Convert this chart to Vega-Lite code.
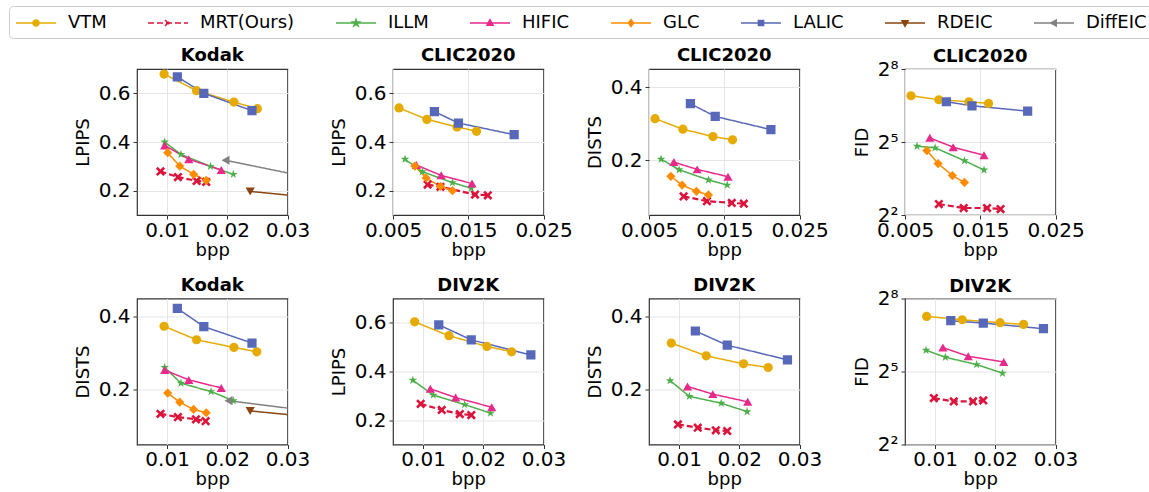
{
"$schema": "https://vega.github.io/schema/vega-lite/v6.json",
"background": "white",
"padding": {"left": 8, "top": 5, "right": 2, "bottom": 0},
"config": {
  "font": "DejaVu Sans",
  "view": {"stroke": "#333333", "strokeWidth": 1.2},
  "axis": {"grid": true, "gridColor": "#e5e5e5", "gridWidth": 1, "domain": false, "tickColor": "#333333", "tickSize": 4, "labelFontSize": 20, "labelColor": "black", "titleFontSize": 18, "titleFontWeight": "normal", "titleColor": "black", "labelFlush": false, "labelOverlap": false, "labelPadding": 3, "titlePadding": 6},
  "axisX": {"labelPadding": 1, "titlePadding": 1},
  "title": {"fontSize": 18, "fontWeight": "bold", "offset": 4, "color": "black"},
  "legend": {"orient": "none", "legendX": -128, "legendY": -63, "direction": "horizontal", "columns": 8, "columnPadding": 38, "symbolSize": 400, "symbolOffset": 10, "labelOffset": 21, "labelFontSize": 18, "labelColor": "black", "padding": 6, "strokeColor": "#cccccc", "cornerRadius": 4, "fillColor": "white", "symbolStrokeWidth": 1.5}
},
"data": {"values": [
{"p":"A","m":"VTM","x":0.0095,"y":0.679},{"p":"A","m":"VTM","x":0.0149,"y":0.611},{"p":"A","m":"VTM","x":0.0211,"y":0.564},{"p":"A","m":"VTM","x":0.025,"y":0.537},
{"p":"A","m":"MRT(Ours)","x":0.0089,"y":0.279},{"p":"A","m":"MRT(Ours)","x":0.0118,"y":0.256},{"p":"A","m":"MRT(Ours)","x":0.0149,"y":0.24},{"p":"A","m":"MRT(Ours)","x":0.0165,"y":0.236},
{"p":"A","m":"ILLM","x":0.0096,"y":0.4},{"p":"A","m":"ILLM","x":0.0123,"y":0.349},{"p":"A","m":"ILLM","x":0.0172,"y":0.3},{"p":"A","m":"ILLM","x":0.021,"y":0.267},
{"p":"A","m":"HIFIC","x":0.0096,"y":0.386},{"p":"A","m":"HIFIC","x":0.0136,"y":0.329},{"p":"A","m":"HIFIC","x":0.019,"y":0.285},
{"p":"A","m":"GLC","x":0.0101,"y":0.356},{"p":"A","m":"GLC","x":0.0121,"y":0.301},{"p":"A","m":"GLC","x":0.0144,"y":0.267},{"p":"A","m":"GLC","x":0.0165,"y":0.242},
{"p":"A","m":"LALIC","x":0.0117,"y":0.668},{"p":"A","m":"LALIC","x":0.0161,"y":0.6},{"p":"A","m":"LALIC","x":0.0241,"y":0.529},
{"p":"A","m":"RDEIC","x":0.0238,"y":0.197},{"p":"A","m":"RDEIC","x":0.045,"y":0.146},
{"p":"A","m":"DiffEIC","x":0.0197,"y":0.325},{"p":"A","m":"DiffEIC","x":0.045,"y":0.197},

{"p":"B","m":"VTM","x":0.0058,"y":0.54},{"p":"B","m":"VTM","x":0.0095,"y":0.493},{"p":"B","m":"VTM","x":0.0135,"y":0.462},{"p":"B","m":"VTM","x":0.0161,"y":0.444},
{"p":"B","m":"MRT(Ours)","x":0.0096,"y":0.225},{"p":"B","m":"MRT(Ours)","x":0.0113,"y":0.216},{"p":"B","m":"MRT(Ours)","x":0.0159,"y":0.184},{"p":"B","m":"MRT(Ours)","x":0.0176,"y":0.181},
{"p":"B","m":"ILLM","x":0.0066,"y":0.329},{"p":"B","m":"ILLM","x":0.0089,"y":0.278},{"p":"B","m":"ILLM","x":0.0129,"y":0.233},{"p":"B","m":"ILLM","x":0.0154,"y":0.21},
{"p":"B","m":"HIFIC","x":0.0081,"y":0.305},{"p":"B","m":"HIFIC","x":0.0114,"y":0.263},{"p":"B","m":"HIFIC","x":0.0155,"y":0.229},
{"p":"B","m":"GLC","x":0.0079,"y":0.301},{"p":"B","m":"GLC","x":0.0094,"y":0.252},{"p":"B","m":"GLC","x":0.0113,"y":0.218},{"p":"B","m":"GLC","x":0.0129,"y":0.2},
{"p":"B","m":"LALIC","x":0.0105,"y":0.525},{"p":"B","m":"LALIC","x":0.0137,"y":0.478},{"p":"B","m":"LALIC","x":0.0211,"y":0.43},

{"p":"C","m":"VTM","x":0.0058,"y":0.314},{"p":"C","m":"VTM","x":0.0095,"y":0.285},{"p":"C","m":"VTM","x":0.0135,"y":0.265},{"p":"C","m":"VTM","x":0.0161,"y":0.256},
{"p":"C","m":"MRT(Ours)","x":0.0096,"y":0.101},{"p":"C","m":"MRT(Ours)","x":0.0127,"y":0.088},{"p":"C","m":"MRT(Ours)","x":0.016,"y":0.083},{"p":"C","m":"MRT(Ours)","x":0.0176,"y":0.081},
{"p":"C","m":"ILLM","x":0.0066,"y":0.203},{"p":"C","m":"ILLM","x":0.009,"y":0.174},{"p":"C","m":"ILLM","x":0.0129,"y":0.146},{"p":"C","m":"ILLM","x":0.0154,"y":0.132},
{"p":"C","m":"HIFIC","x":0.0083,"y":0.195},{"p":"C","m":"HIFIC","x":0.0114,"y":0.175},{"p":"C","m":"HIFIC","x":0.0155,"y":0.155},
{"p":"C","m":"GLC","x":0.0079,"y":0.156},{"p":"C","m":"GLC","x":0.0094,"y":0.132},{"p":"C","m":"GLC","x":0.0113,"y":0.115},{"p":"C","m":"GLC","x":0.0129,"y":0.105},
{"p":"C","m":"LALIC","x":0.0105,"y":0.355},{"p":"C","m":"LALIC","x":0.0138,"y":0.32},{"p":"C","m":"LALIC","x":0.0212,"y":0.284},

{"p":"D","m":"VTM","x":0.0058,"y":119.5},{"p":"D","m":"VTM","x":0.0095,"y":106.6},{"p":"D","m":"VTM","x":0.0135,"y":100.7},{"p":"D","m":"VTM","x":0.0161,"y":96},
{"p":"D","m":"MRT(Ours)","x":0.0095,"y":5.46},{"p":"D","m":"MRT(Ours)","x":0.0128,"y":4.88},{"p":"D","m":"MRT(Ours)","x":0.0159,"y":4.88},{"p":"D","m":"MRT(Ours)","x":0.0177,"y":4.74},
{"p":"D","m":"ILLM","x":0.0066,"y":28.4},{"p":"D","m":"ILLM","x":0.009,"y":27.1},{"p":"D","m":"ILLM","x":0.0129,"y":18.8},{"p":"D","m":"ILLM","x":0.0155,"y":14.4},
{"p":"D","m":"HIFIC","x":0.0083,"y":36},{"p":"D","m":"HIFIC","x":0.0114,"y":27.6},{"p":"D","m":"HIFIC","x":0.0155,"y":21.9},
{"p":"D","m":"GLC","x":0.0079,"y":25.1},{"p":"D","m":"GLC","x":0.0094,"y":17.3},{"p":"D","m":"GLC","x":0.0113,"y":12.3},{"p":"D","m":"GLC","x":0.0129,"y":10.1},
{"p":"D","m":"LALIC","x":0.0105,"y":100.7},{"p":"D","m":"LALIC","x":0.0139,"y":89.8},{"p":"D","m":"LALIC","x":0.0213,"y":77.1},

{"p":"E","m":"VTM","x":0.0095,"y":0.374},{"p":"E","m":"VTM","x":0.0149,"y":0.337},{"p":"E","m":"VTM","x":0.0211,"y":0.316},{"p":"E","m":"VTM","x":0.0249,"y":0.304},
{"p":"E","m":"MRT(Ours)","x":0.0089,"y":0.134},{"p":"E","m":"MRT(Ours)","x":0.0118,"y":0.125},{"p":"E","m":"MRT(Ours)","x":0.0148,"y":0.119},{"p":"E","m":"MRT(Ours)","x":0.0164,"y":0.114},
{"p":"E","m":"ILLM","x":0.0096,"y":0.261},{"p":"E","m":"ILLM","x":0.0123,"y":0.218},{"p":"E","m":"ILLM","x":0.0173,"y":0.195},{"p":"E","m":"ILLM","x":0.021,"y":0.17},
{"p":"E","m":"HIFIC","x":0.0096,"y":0.254},{"p":"E","m":"HIFIC","x":0.0136,"y":0.227},{"p":"E","m":"HIFIC","x":0.019,"y":0.205},
{"p":"E","m":"GLC","x":0.0101,"y":0.191},{"p":"E","m":"GLC","x":0.0121,"y":0.166},{"p":"E","m":"GLC","x":0.0144,"y":0.146},{"p":"E","m":"GLC","x":0.0165,"y":0.137},
{"p":"E","m":"LALIC","x":0.0117,"y":0.423},{"p":"E","m":"LALIC","x":0.0161,"y":0.373},{"p":"E","m":"LALIC","x":0.0241,"y":0.328},
{"p":"E","m":"RDEIC","x":0.0238,"y":0.142},{"p":"E","m":"RDEIC","x":0.045,"y":0.108},
{"p":"E","m":"DiffEIC","x":0.0202,"y":0.17},{"p":"E","m":"DiffEIC","x":0.045,"y":0.119},

{"p":"F","m":"VTM","x":0.0086,"y":0.604},{"p":"F","m":"VTM","x":0.0143,"y":0.547},{"p":"F","m":"VTM","x":0.0206,"y":0.503},{"p":"F","m":"VTM","x":0.0247,"y":0.481},
{"p":"F","m":"MRT(Ours)","x":0.0096,"y":0.267},{"p":"F","m":"MRT(Ours)","x":0.0131,"y":0.242},{"p":"F","m":"MRT(Ours)","x":0.0161,"y":0.225},{"p":"F","m":"MRT(Ours)","x":0.018,"y":0.221},
{"p":"F","m":"ILLM","x":0.0083,"y":0.364},{"p":"F","m":"ILLM","x":0.0117,"y":0.303},{"p":"F","m":"ILLM","x":0.0169,"y":0.264},{"p":"F","m":"ILLM","x":0.0212,"y":0.229},
{"p":"F","m":"HIFIC","x":0.0112,"y":0.329},{"p":"F","m":"HIFIC","x":0.0154,"y":0.293},{"p":"F","m":"HIFIC","x":0.0214,"y":0.253},
{"p":"F","m":"LALIC","x":0.0126,"y":0.592},{"p":"F","m":"LALIC","x":0.018,"y":0.53},{"p":"F","m":"LALIC","x":0.0279,"y":0.468},

{"p":"G","m":"VTM","x":0.0087,"y":0.328},{"p":"G","m":"VTM","x":0.0145,"y":0.293},{"p":"G","m":"VTM","x":0.0207,"y":0.271},{"p":"G","m":"VTM","x":0.0248,"y":0.261},
{"p":"G","m":"MRT(Ours)","x":0.0098,"y":0.105},{"p":"G","m":"MRT(Ours)","x":0.0131,"y":0.096},{"p":"G","m":"MRT(Ours)","x":0.0161,"y":0.089},{"p":"G","m":"MRT(Ours)","x":0.018,"y":0.087},
{"p":"G","m":"ILLM","x":0.0085,"y":0.225},{"p":"G","m":"ILLM","x":0.0117,"y":0.182},{"p":"G","m":"ILLM","x":0.017,"y":0.163},{"p":"G","m":"ILLM","x":0.0213,"y":0.14},
{"p":"G","m":"HIFIC","x":0.0114,"y":0.209},{"p":"G","m":"HIFIC","x":0.0156,"y":0.188},{"p":"G","m":"HIFIC","x":0.0214,"y":0.167},
{"p":"G","m":"LALIC","x":0.0127,"y":0.361},{"p":"G","m":"LALIC","x":0.018,"y":0.322},{"p":"G","m":"LALIC","x":0.028,"y":0.282},

{"p":"H","m":"VTM","x":0.0086,"y":153.6},{"p":"H","m":"VTM","x":0.0145,"y":139.8},{"p":"H","m":"VTM","x":0.0208,"y":128.4},{"p":"H","m":"VTM","x":0.0247,"y":122.4},
{"p":"H","m":"MRT(Ours)","x":0.0098,"y":15},{"p":"H","m":"MRT(Ours)","x":0.0131,"y":13.65},{"p":"H","m":"MRT(Ours)","x":0.0163,"y":13.65},{"p":"H","m":"MRT(Ours)","x":0.018,"y":14.05},
{"p":"H","m":"ILLM","x":0.0085,"y":58.6},{"p":"H","m":"ILLM","x":0.0117,"y":48},{"p":"H","m":"ILLM","x":0.0169,"y":39},{"p":"H","m":"ILLM","x":0.0212,"y":30.5},
{"p":"H","m":"HIFIC","x":0.0113,"y":63.2},{"p":"H","m":"HIFIC","x":0.0155,"y":49.4},{"p":"H","m":"HIFIC","x":0.0214,"y":42},
{"p":"H","m":"LALIC","x":0.0126,"y":135.9},{"p":"H","m":"LALIC","x":0.018,"y":127.1},{"p":"H","m":"LALIC","x":0.028,"y":108.3}
]},
"columns": 4,
"spacing": {"row": 83.5, "column": 105},
"bounds": "flush",
"resolve": {"scale": {"color": "shared", "shape": "shared", "strokeDash": "shared"}},
"concat": [
{"title": "Kodak", "width": 150.5, "height": 146,
 "transform": [{"filter": "datum.p === 'A'"}],
 "encoding": {
  "x": {"field": "x", "type": "quantitative", "scale": {"domain": [0.005, 0.03]}, "axis": {"values": [0.01, 0.02, 0.03], "format": ".3~f", "title": "bpp"}},
  "y": {"field": "y", "type": "quantitative", "scale": {"domain": [0.1, 0.7]}, "axis": {"values": [0.2, 0.4, 0.6], "format": ".1f", "title": "LPIPS"}},
  "color": {"field": "m", "type": "nominal", "scale": {"domain": ["VTM","MRT(Ours)","ILLM","HIFIC","GLC","LALIC","RDEIC","DiffEIC"], "range": ["#e6ab02","#dc143c","#4daf4a","#e7298a","#ff8c00","#5768b8","#8b4513","#808080"]},
   "legend": {"title": null, "encode": {"symbols": {"update": {
     "shape": {"signal": "{'VTM':'M-2,0H2M0.3,0A0.3,0.3,0,1,1,-0.3,0A0.3,0.3,0,1,1,0.3,0Z','MRT(Ours)':'M-2,0H2M-0.3,-0.3L0.3,0.3M-0.3,0.3L0.3,-0.3','ILLM':'M-2,0H2M0,-0.35L0.078,-0.107L0.333,-0.108L0.126,0.041L0.206,0.283L0,0.133L-0.206,0.283L-0.126,0.041L-0.333,-0.108L-0.078,-0.107Z','HIFIC':'M-2,0H2M0,-0.33L0.3,0.22L-0.3,0.22Z','GLC':'M-2,0H2M0,-0.35L0.26,0L0,0.35L-0.26,0Z','LALIC':'M-2,0H2M-0.26,-0.26H0.26V0.26H-0.26Z','RDEIC':'M-2,0H2M0,0.33L0.3,-0.22L-0.3,-0.22Z','DiffEIC':'M-2,0H2M-0.33,0L0.22,-0.3L0.22,0.3Z'}[datum.value]"},
     "fill": {"signal": "{'VTM':'#e6ab02','MRT(Ours)':'#dc143c','ILLM':'#4daf4a','HIFIC':'#e7298a','GLC':'#ff8c00','LALIC':'#5768b8','RDEIC':'#8b4513','DiffEIC':'#808080'}[datum.value]"},
     "stroke": {"signal": "{'VTM':'#e6ab02','MRT(Ours)':'#dc143c','ILLM':'#4daf4a','HIFIC':'#e7298a','GLC':'#ff8c00','LALIC':'#5768b8','RDEIC':'#8b4513','DiffEIC':'#808080'}[datum.value]"},
     "strokeDash": {"signal": "datum.value === 'MRT(Ours)' ? [5,3] : [1,0]"},
     "strokeWidth": {"value": 1.5},
     "opacity": {"value": 1}}}}}}
 },
 "layer": [
  {"mark": {"type": "line", "clip": true}, "encoding": {"strokeDash": {"field": "m", "type": "nominal", "scale": {"domain": ["VTM","MRT(Ours)","ILLM","HIFIC","GLC","LALIC","RDEIC","DiffEIC"], "range": [[1,0],[6,3],[1,0],[1,0],[1,0],[1,0],[1,0],[1,0]]}, "legend": null}, "strokeWidth": {"condition": {"test": "datum.m === 'MRT(Ours)'", "value": 2.2}, "value": 1.5}}},
  {"mark": {"type": "point", "filled": true, "size": 85, "opacity": 1, "clip": true}, "encoding": {"shape": {"field": "m", "type": "nominal", "scale": {"domain": ["DiffEIC","RDEIC","LALIC","GLC","HIFIC","ILLM","MRT(Ours)","VTM"], "range": ["triangle-left","triangle-down","square","diamond","triangle-up","M0,-1L0.223,-0.307L0.951,-0.309L0.361,0.117L0.588,0.809L0,0.38L-0.588,0.809L-0.361,0.117L-0.951,-0.309L-0.223,-0.307Z","M-1,-0.6L-0.6,-1L0,-0.4L0.6,-1L1,-0.6L0.4,0L1,0.6L0.6,1L0,0.4L-0.6,1L-1,0.6L-0.4,0Z","circle"]}, "legend": null}}}
 ]},
{"title": "CLIC2020", "width": 150.5, "height": 146,
 "transform": [{"filter": "datum.p === 'B'"}],
 "encoding": {
  "x": {"field": "x", "type": "quantitative", "scale": {"domain": [0.005, 0.025]}, "axis": {"values": [0.005, 0.015, 0.025], "format": ".3~f", "title": "bpp"}},
  "y": {"field": "y", "type": "quantitative", "scale": {"domain": [0.1, 0.7]}, "axis": {"values": [0.2, 0.4, 0.6], "format": ".1f", "title": "LPIPS"}},
  "color": {"field": "m", "type": "nominal", "scale": {"domain": ["VTM","MRT(Ours)","ILLM","HIFIC","GLC","LALIC","RDEIC","DiffEIC"], "range": ["#e6ab02","#dc143c","#4daf4a","#e7298a","#ff8c00","#5768b8","#8b4513","#808080"]}}
 },
 "layer": [
  {"mark": {"type": "line", "clip": true}, "encoding": {"strokeDash": {"field": "m", "type": "nominal", "scale": {"domain": ["VTM","MRT(Ours)","ILLM","HIFIC","GLC","LALIC","RDEIC","DiffEIC"], "range": [[1,0],[6,3],[1,0],[1,0],[1,0],[1,0],[1,0],[1,0]]}, "legend": null}, "strokeWidth": {"condition": {"test": "datum.m === 'MRT(Ours)'", "value": 2.2}, "value": 1.5}}},
  {"mark": {"type": "point", "filled": true, "size": 85, "opacity": 1, "clip": true}, "encoding": {"shape": {"field": "m", "type": "nominal", "scale": {"domain": ["DiffEIC","RDEIC","LALIC","GLC","HIFIC","ILLM","MRT(Ours)","VTM"], "range": ["triangle-left","triangle-down","square","diamond","triangle-up","M0,-1L0.223,-0.307L0.951,-0.309L0.361,0.117L0.588,0.809L0,0.38L-0.588,0.809L-0.361,0.117L-0.951,-0.309L-0.223,-0.307Z","M-1,-0.6L-0.6,-1L0,-0.4L0.6,-1L1,-0.6L0.4,0L1,0.6L0.6,1L0,0.4L-0.6,1L-1,0.6L-0.4,0Z","circle"]}, "legend": null}}}
 ]},
{"title": "CLIC2020", "width": 150.5, "height": 146,
 "transform": [{"filter": "datum.p === 'C'"}],
 "encoding": {
  "x": {"field": "x", "type": "quantitative", "scale": {"domain": [0.005, 0.025]}, "axis": {"values": [0.005, 0.015, 0.025], "format": ".3~f", "title": "bpp"}},
  "y": {"field": "y", "type": "quantitative", "scale": {"domain": [0.05, 0.45]}, "axis": {"values": [0.2, 0.4], "format": ".1f", "title": "DISTS"}},
  "color": {"field": "m", "type": "nominal", "scale": {"domain": ["VTM","MRT(Ours)","ILLM","HIFIC","GLC","LALIC","RDEIC","DiffEIC"], "range": ["#e6ab02","#dc143c","#4daf4a","#e7298a","#ff8c00","#5768b8","#8b4513","#808080"]}}
 },
 "layer": [
  {"mark": {"type": "line", "clip": true}, "encoding": {"strokeDash": {"field": "m", "type": "nominal", "scale": {"domain": ["VTM","MRT(Ours)","ILLM","HIFIC","GLC","LALIC","RDEIC","DiffEIC"], "range": [[1,0],[6,3],[1,0],[1,0],[1,0],[1,0],[1,0],[1,0]]}, "legend": null}, "strokeWidth": {"condition": {"test": "datum.m === 'MRT(Ours)'", "value": 2.2}, "value": 1.5}}},
  {"mark": {"type": "point", "filled": true, "size": 85, "opacity": 1, "clip": true}, "encoding": {"shape": {"field": "m", "type": "nominal", "scale": {"domain": ["DiffEIC","RDEIC","LALIC","GLC","HIFIC","ILLM","MRT(Ours)","VTM"], "range": ["triangle-left","triangle-down","square","diamond","triangle-up","M0,-1L0.223,-0.307L0.951,-0.309L0.361,0.117L0.588,0.809L0,0.38L-0.588,0.809L-0.361,0.117L-0.951,-0.309L-0.223,-0.307Z","M-1,-0.6L-0.6,-1L0,-0.4L0.6,-1L1,-0.6L0.4,0L1,0.6L0.6,1L0,0.4L-0.6,1L-1,0.6L-0.4,0Z","circle"]}, "legend": null}}}
 ]},
{"title": {"text": "CLIC2020", "offset": -7}, "width": 150.5, "height": 146,
 "transform": [{"filter": "datum.p === 'D'"}],
 "encoding": {
  "x": {"field": "x", "type": "quantitative", "scale": {"domain": [0.005, 0.025]}, "axis": {"values": [0.005, 0.015, 0.025], "format": ".3~f", "title": "bpp"}},
  "y": {"field": "y", "type": "quantitative", "scale": {"type": "log", "base": 2, "domain": [4, 256]}, "axis": {"values": [4, 32, 256], "labelExpr": "datum.value == 4 ? '2²' : datum.value == 32 ? '2⁵' : '2⁸'", "title": "FID"}},
  "color": {"field": "m", "type": "nominal", "scale": {"domain": ["VTM","MRT(Ours)","ILLM","HIFIC","GLC","LALIC","RDEIC","DiffEIC"], "range": ["#e6ab02","#dc143c","#4daf4a","#e7298a","#ff8c00","#5768b8","#8b4513","#808080"]}}
 },
 "layer": [
  {"mark": {"type": "line", "clip": true}, "encoding": {"strokeDash": {"field": "m", "type": "nominal", "scale": {"domain": ["VTM","MRT(Ours)","ILLM","HIFIC","GLC","LALIC","RDEIC","DiffEIC"], "range": [[1,0],[6,3],[1,0],[1,0],[1,0],[1,0],[1,0],[1,0]]}, "legend": null}, "strokeWidth": {"condition": {"test": "datum.m === 'MRT(Ours)'", "value": 2.2}, "value": 1.5}}},
  {"mark": {"type": "point", "filled": true, "size": 85, "opacity": 1, "clip": true}, "encoding": {"shape": {"field": "m", "type": "nominal", "scale": {"domain": ["DiffEIC","RDEIC","LALIC","GLC","HIFIC","ILLM","MRT(Ours)","VTM"], "range": ["triangle-left","triangle-down","square","diamond","triangle-up","M0,-1L0.223,-0.307L0.951,-0.309L0.361,0.117L0.588,0.809L0,0.38L-0.588,0.809L-0.361,0.117L-0.951,-0.309L-0.223,-0.307Z","M-1,-0.6L-0.6,-1L0,-0.4L0.6,-1L1,-0.6L0.4,0L1,0.6L0.6,1L0,0.4L-0.6,1L-1,0.6L-0.4,0Z","circle"]}, "legend": null}}}
 ]},
{"title": "Kodak", "width": 150.5, "height": 146,
 "transform": [{"filter": "datum.p === 'E'"}],
 "encoding": {
  "x": {"field": "x", "type": "quantitative", "scale": {"domain": [0.005, 0.03]}, "axis": {"values": [0.01, 0.02, 0.03], "format": ".3~f", "title": "bpp"}},
  "y": {"field": "y", "type": "quantitative", "scale": {"domain": [0.05, 0.45]}, "axis": {"values": [0.2, 0.4], "format": ".1f", "title": "DISTS"}},
  "color": {"field": "m", "type": "nominal", "scale": {"domain": ["VTM","MRT(Ours)","ILLM","HIFIC","GLC","LALIC","RDEIC","DiffEIC"], "range": ["#e6ab02","#dc143c","#4daf4a","#e7298a","#ff8c00","#5768b8","#8b4513","#808080"]}}
 },
 "layer": [
  {"mark": {"type": "line", "clip": true}, "encoding": {"strokeDash": {"field": "m", "type": "nominal", "scale": {"domain": ["VTM","MRT(Ours)","ILLM","HIFIC","GLC","LALIC","RDEIC","DiffEIC"], "range": [[1,0],[6,3],[1,0],[1,0],[1,0],[1,0],[1,0],[1,0]]}, "legend": null}, "strokeWidth": {"condition": {"test": "datum.m === 'MRT(Ours)'", "value": 2.2}, "value": 1.5}}},
  {"mark": {"type": "point", "filled": true, "size": 85, "opacity": 1, "clip": true}, "encoding": {"shape": {"field": "m", "type": "nominal", "scale": {"domain": ["DiffEIC","RDEIC","LALIC","GLC","HIFIC","ILLM","MRT(Ours)","VTM"], "range": ["triangle-left","triangle-down","square","diamond","triangle-up","M0,-1L0.223,-0.307L0.951,-0.309L0.361,0.117L0.588,0.809L0,0.38L-0.588,0.809L-0.361,0.117L-0.951,-0.309L-0.223,-0.307Z","M-1,-0.6L-0.6,-1L0,-0.4L0.6,-1L1,-0.6L0.4,0L1,0.6L0.6,1L0,0.4L-0.6,1L-1,0.6L-0.4,0Z","circle"]}, "legend": null}}}
 ]},
{"title": "DIV2K", "width": 150.5, "height": 146,
 "transform": [{"filter": "datum.p === 'F'"}],
 "encoding": {
  "x": {"field": "x", "type": "quantitative", "scale": {"domain": [0.005, 0.03]}, "axis": {"values": [0.01, 0.02, 0.03], "format": ".3~f", "title": "bpp"}},
  "y": {"field": "y", "type": "quantitative", "scale": {"domain": [0.1, 0.7]}, "axis": {"values": [0.2, 0.4, 0.6], "format": ".1f", "title": "LPIPS"}},
  "color": {"field": "m", "type": "nominal", "scale": {"domain": ["VTM","MRT(Ours)","ILLM","HIFIC","GLC","LALIC","RDEIC","DiffEIC"], "range": ["#e6ab02","#dc143c","#4daf4a","#e7298a","#ff8c00","#5768b8","#8b4513","#808080"]}}
 },
 "layer": [
  {"mark": {"type": "line", "clip": true}, "encoding": {"strokeDash": {"field": "m", "type": "nominal", "scale": {"domain": ["VTM","MRT(Ours)","ILLM","HIFIC","GLC","LALIC","RDEIC","DiffEIC"], "range": [[1,0],[6,3],[1,0],[1,0],[1,0],[1,0],[1,0],[1,0]]}, "legend": null}, "strokeWidth": {"condition": {"test": "datum.m === 'MRT(Ours)'", "value": 2.2}, "value": 1.5}}},
  {"mark": {"type": "point", "filled": true, "size": 85, "opacity": 1, "clip": true}, "encoding": {"shape": {"field": "m", "type": "nominal", "scale": {"domain": ["DiffEIC","RDEIC","LALIC","GLC","HIFIC","ILLM","MRT(Ours)","VTM"], "range": ["triangle-left","triangle-down","square","diamond","triangle-up","M0,-1L0.223,-0.307L0.951,-0.309L0.361,0.117L0.588,0.809L0,0.38L-0.588,0.809L-0.361,0.117L-0.951,-0.309L-0.223,-0.307Z","M-1,-0.6L-0.6,-1L0,-0.4L0.6,-1L1,-0.6L0.4,0L1,0.6L0.6,1L0,0.4L-0.6,1L-1,0.6L-0.4,0Z","circle"]}, "legend": null}}}
 ]},
{"title": "DIV2K", "width": 150.5, "height": 146,
 "transform": [{"filter": "datum.p === 'G'"}],
 "encoding": {
  "x": {"field": "x", "type": "quantitative", "scale": {"domain": [0.005, 0.03]}, "axis": {"values": [0.01, 0.02, 0.03], "format": ".3~f", "title": "bpp"}},
  "y": {"field": "y", "type": "quantitative", "scale": {"domain": [0.05, 0.45]}, "axis": {"values": [0.2, 0.4], "format": ".1f", "title": "DISTS"}},
  "color": {"field": "m", "type": "nominal", "scale": {"domain": ["VTM","MRT(Ours)","ILLM","HIFIC","GLC","LALIC","RDEIC","DiffEIC"], "range": ["#e6ab02","#dc143c","#4daf4a","#e7298a","#ff8c00","#5768b8","#8b4513","#808080"]}}
 },
 "layer": [
  {"mark": {"type": "line", "clip": true}, "encoding": {"strokeDash": {"field": "m", "type": "nominal", "scale": {"domain": ["VTM","MRT(Ours)","ILLM","HIFIC","GLC","LALIC","RDEIC","DiffEIC"], "range": [[1,0],[6,3],[1,0],[1,0],[1,0],[1,0],[1,0],[1,0]]}, "legend": null}, "strokeWidth": {"condition": {"test": "datum.m === 'MRT(Ours)'", "value": 2.2}, "value": 1.5}}},
  {"mark": {"type": "point", "filled": true, "size": 85, "opacity": 1, "clip": true}, "encoding": {"shape": {"field": "m", "type": "nominal", "scale": {"domain": ["DiffEIC","RDEIC","LALIC","GLC","HIFIC","ILLM","MRT(Ours)","VTM"], "range": ["triangle-left","triangle-down","square","diamond","triangle-up","M0,-1L0.223,-0.307L0.951,-0.309L0.361,0.117L0.588,0.809L0,0.38L-0.588,0.809L-0.361,0.117L-0.951,-0.309L-0.223,-0.307Z","M-1,-0.6L-0.6,-1L0,-0.4L0.6,-1L1,-0.6L0.4,0L1,0.6L0.6,1L0,0.4L-0.6,1L-1,0.6L-0.4,0Z","circle"]}, "legend": null}}}
 ]},
{"title": {"text": "DIV2K", "offset": -7}, "width": 150.5, "height": 146,
 "transform": [{"filter": "datum.p === 'H'"}],
 "encoding": {
  "x": {"field": "x", "type": "quantitative", "scale": {"domain": [0.005, 0.03]}, "axis": {"values": [0.01, 0.02, 0.03], "format": ".3~f", "title": "bpp"}},
  "y": {"field": "y", "type": "quantitative", "scale": {"type": "log", "base": 2, "domain": [4, 256]}, "axis": {"values": [4, 32, 256], "labelExpr": "datum.value == 4 ? '2²' : datum.value == 32 ? '2⁵' : '2⁸'", "title": "FID"}},
  "color": {"field": "m", "type": "nominal", "scale": {"domain": ["VTM","MRT(Ours)","ILLM","HIFIC","GLC","LALIC","RDEIC","DiffEIC"], "range": ["#e6ab02","#dc143c","#4daf4a","#e7298a","#ff8c00","#5768b8","#8b4513","#808080"]}}
 },
 "layer": [
  {"mark": {"type": "line", "clip": true}, "encoding": {"strokeDash": {"field": "m", "type": "nominal", "scale": {"domain": ["VTM","MRT(Ours)","ILLM","HIFIC","GLC","LALIC","RDEIC","DiffEIC"], "range": [[1,0],[6,3],[1,0],[1,0],[1,0],[1,0],[1,0],[1,0]]}, "legend": null}, "strokeWidth": {"condition": {"test": "datum.m === 'MRT(Ours)'", "value": 2.2}, "value": 1.5}}},
  {"mark": {"type": "point", "filled": true, "size": 85, "opacity": 1, "clip": true}, "encoding": {"shape": {"field": "m", "type": "nominal", "scale": {"domain": ["DiffEIC","RDEIC","LALIC","GLC","HIFIC","ILLM","MRT(Ours)","VTM"], "range": ["triangle-left","triangle-down","square","diamond","triangle-up","M0,-1L0.223,-0.307L0.951,-0.309L0.361,0.117L0.588,0.809L0,0.38L-0.588,0.809L-0.361,0.117L-0.951,-0.309L-0.223,-0.307Z","M-1,-0.6L-0.6,-1L0,-0.4L0.6,-1L1,-0.6L0.4,0L1,0.6L0.6,1L0,0.4L-0.6,1L-1,0.6L-0.4,0Z","circle"]}, "legend": null}}}
 ]}
]
}
